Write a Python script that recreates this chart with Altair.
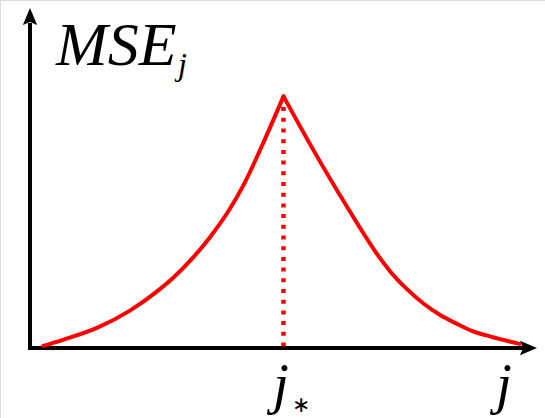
import altair as alt
import pandas as pd

# Rising branch of the MSE curve, up to the optimum j*
j_left = [0.26, 0.65, 1.32, 1.97, 2.50, 2.82, 3.21, 3.55, 3.89, 4.20, 4.60, 5.0]
mse_left = [0.06, 0.24, 0.59, 1.10, 1.66, 2.06, 2.65, 3.26, 3.97, 4.76, 6.03, 7.4]
# Falling branch, from j* to the end of the axis
j_right = [5.0, 5.59, 6.25, 6.90, 7.10, 7.43, 7.76, 8.09, 8.42, 8.74, 9.07, 9.66]
mse_right = [7.4, 5.82, 4.16, 2.65, 2.26, 1.74, 1.31, 0.97, 0.71, 0.49, 0.34, 0.12]

j_star = 5.0
mse_peak = 7.4
x_tip = 10.0     # arrow tip of the j axis
y_tip = 10.0     # arrow tip of the MSE axis
x_line_end = 9.7
y_line_end = 9.5

RED = "#ff0000"
SERIF = "Liberation Serif"

xs = alt.Scale(domain=[0, 10], range=[30, 537])
ys = alt.Scale(domain=[0, 10], range=[348, 8])

curve = pd.DataFrame({
    "j": j_left + j_right,
    "mse": mse_left + mse_right,
    "branch": ["rise"] * len(j_left) + ["fall"] * len(j_right),
})

lines = alt.Chart(curve).mark_line(
    color=RED, strokeWidth=4, interpolate="monotone", strokeCap="round"
).encode(
    x=alt.X("j:Q", scale=xs, axis=None),
    y=alt.Y("mse:Q", scale=ys, axis=None),
    detail="branch:N",
    order="j:Q",
)

peak = pd.DataFrame({"j": [j_star], "y0": [0.0], "y1": [mse_peak]})
dotted = alt.Chart(peak).mark_rule(
    color=RED, strokeWidth=4.5, strokeDash=[4, 6.7]
).encode(
    x=alt.X("j:Q", scale=xs, axis=None),
    y=alt.Y("y1:Q", scale=ys, axis=None),
    y2="y0:Q",
)

# Axes drawn as thick rules ending in arrowheads
axes_df = pd.DataFrame({
    "x0": [0.0, 0.0], "x1": [x_line_end, 0.0],
    "y0": [0.0, 0.0], "y1": [0.0, y_line_end],
})
axes = alt.Chart(axes_df).mark_rule(
    color="black", strokeWidth=4, strokeCap="square"
).encode(
    x=alt.X("x0:Q", scale=xs, axis=None), x2="x1:Q",
    y=alt.Y("y0:Q", scale=ys, axis=None), y2="y1:Q",
)

up_head = "M0,0 L0.42,1 L0,0.82 L-0.42,1 Z"
right_head = "M0,0 L-1,0.42 L-0.82,0 L-1,-0.42 Z"
heads_df = pd.DataFrame({
    "x": [0.0, x_tip], "y": [y_tip, 0.0], "shape": [up_head, right_head],
})
heads = alt.Chart(heads_df).mark_point(
    filled=True, color="black", opacity=1, size=1156, strokeWidth=0
).encode(
    x=alt.X("x:Q", scale=xs, axis=None),
    y=alt.Y("y:Q", scale=ys, axis=None),
    shape=alt.Shape("shape:N", scale=None, legend=None),
)


def label(text, x, y, size, align="left", italic=True, font=SERIF):
    return alt.Chart(pd.DataFrame({"t": [text]})).mark_text(
        font=font, fontStyle="italic" if italic else "normal", fontSize=size,
        align=align, baseline="alphabetic", color="black",
    ).encode(text="t:N", x=alt.value(x), y=alt.value(y))


title_main = label("MSE", 56, 65, 62)
title_sub = label("j", 178, 75, 32)
jstar_j = label("j", 281, 403, 57, align="center")
jstar_s = label("\u2217", 292, 412, 22, italic=False)
j_end = label("j", 504, 403, 57, align="center")

chart = alt.layer(
    axes, heads, dotted, lines, title_main, title_sub, jstar_j, jstar_s, j_end
).properties(
    width=545, height=418, padding=0, autosize=alt.AutoSizeParams(type="none"),
).configure_view(stroke=None).configure(background="white")

chart.save("out.html", embed_options={"renderer": "svg", "actions": False})
